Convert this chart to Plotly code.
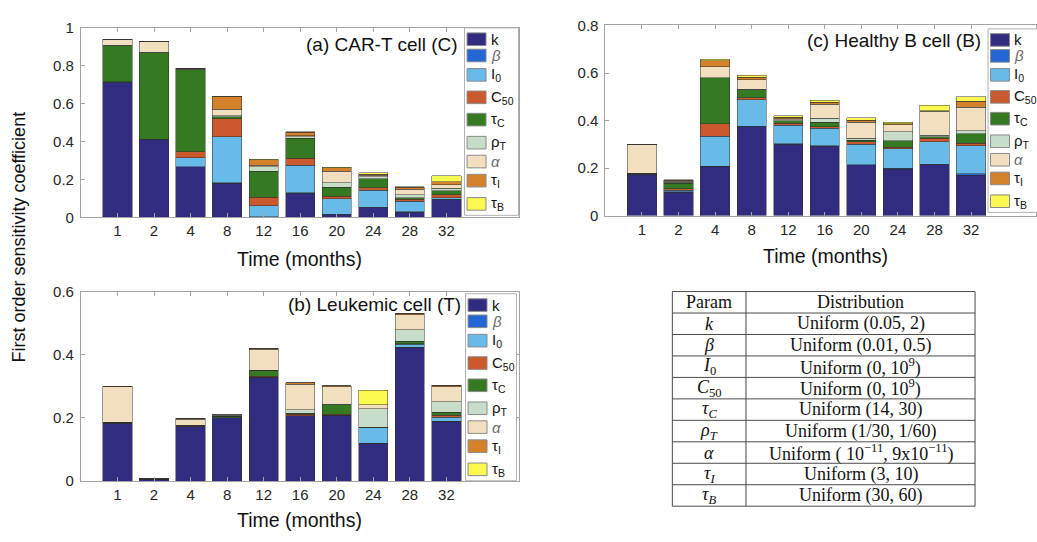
import plotly.graph_objects as go

W, H = 1037, 542


def px(x):
    return x / W


def py(y):
    return 1 - y / H


# ---------------- data ----------------
months = ["1", "2", "4", "8", "12", "16", "20", "24", "28", "32"]
positions = list(range(1, 11))

params = ["k", "beta", "I0", "C50", "tauC", "rhoT", "alpha", "tauI", "tauB"]
param_labels = [
    "k",
    "<i>β</i>",
    "I<sub>0</sub>",
    "C<sub>50</sub>",
    "τ<sub>C</sub>",
    "ρ<sub>T</sub>",
    "<i>α</i>",
    "τ<sub>I</sub>",
    "τ<sub>B</sub>",
]
param_colors = [
    "#322c80",  # k
    "#2566d6",  # beta
    "#68bbe8",  # I0
    "#cb592e",  # C50
    "#357a22",  # tauC
    "#c7dcc9",  # rhoT
    "#f2dfc0",  # alpha
    "#d4812c",  # tauI
    "#fbf94f",  # tauB
]

# (a) CAR-T cell (C): first order indices per parameter and month
car_t = {
    "k":     [0.713, 0.408, 0.266, 0.180, 0.002, 0.128, 0.013, 0.051, 0.027, 0.092],
    "beta":  [0.003, 0.003, 0.002, 0.002, 0.000, 0.002, 0.003, 0.002, 0.003, 0.003],
    "I0":    [0.000, 0.000, 0.047, 0.242, 0.058, 0.144, 0.081, 0.089, 0.054, 0.008],
    "C50":   [0.000, 0.000, 0.032, 0.097, 0.046, 0.037, 0.014, 0.015, 0.010, 0.017],
    "tauC":  [0.189, 0.459, 0.432, 0.010, 0.137, 0.107, 0.048, 0.047, 0.010, 0.020],
    "rhoT":  [0.003, 0.002, 0.002, 0.004, 0.024, 0.007, 0.024, 0.009, 0.014, 0.012],
    "alpha": [0.031, 0.055, 0.002, 0.035, 0.008, 0.005, 0.061, 0.009, 0.031, 0.019],
    "tauI":  [0.002, 0.003, 0.004, 0.070, 0.029, 0.018, 0.018, 0.004, 0.010, 0.017],
    "tauB":  [0.000, 0.000, 0.000, 0.000, 0.002, 0.003, 0.002, 0.009, 0.002, 0.030],
}

# (b) Leukemic cell (T)
leukemic = {
    "k":     [0.183, 0.005, 0.172, 0.200, 0.329, 0.207, 0.208, 0.120, 0.423, 0.190],
    "beta":  [0.000, 0.000, 0.000, 0.000, 0.000, 0.000, 0.000, 0.000, 0.000, 0.000],
    "I0":    [0.000, 0.000, 0.000, 0.000, 0.000, 0.000, 0.000, 0.048, 0.010, 0.012],
    "C50":   [0.001, 0.000, 0.001, 0.001, 0.002, 0.004, 0.003, 0.000, 0.002, 0.006],
    "tauC":  [0.002, 0.001, 0.003, 0.004, 0.019, 0.004, 0.030, 0.003, 0.007, 0.009],
    "rhoT":  [0.000, 0.000, 0.000, 0.000, 0.001, 0.010, 0.002, 0.058, 0.037, 0.034],
    "alpha": [0.112, 0.001, 0.020, 0.003, 0.066, 0.082, 0.055, 0.013, 0.048, 0.047],
    "tauI":  [0.002, 0.001, 0.002, 0.002, 0.003, 0.004, 0.004, 0.000, 0.005, 0.005],
    "tauB":  [0.000, 0.000, 0.000, 0.000, 0.000, 0.000, 0.000, 0.046, 0.000, 0.000],
}

# (c) Healthy B cell (B)
healthy_b = {
    "k":     [0.172, 0.098, 0.207, 0.374, 0.300, 0.292, 0.213, 0.196, 0.214, 0.169],
    "beta":  [0.000, 0.002, 0.000, 0.002, 0.002, 0.002, 0.002, 0.003, 0.003, 0.007],
    "I0":    [0.001, 0.006, 0.127, 0.111, 0.078, 0.073, 0.086, 0.083, 0.093, 0.117],
    "C50":   [0.001, 0.008, 0.052, 0.008, 0.009, 0.007, 0.009, 0.005, 0.015, 0.011],
    "tauC":  [0.005, 0.022, 0.193, 0.034, 0.011, 0.019, 0.007, 0.028, 0.007, 0.040],
    "rhoT":  [0.000, 0.004, 0.002, 0.002, 0.004, 0.016, 0.008, 0.038, 0.007, 0.014],
    "alpha": [0.119, 0.005, 0.045, 0.041, 0.004, 0.060, 0.068, 0.029, 0.100, 0.098],
    "tauI":  [0.002, 0.004, 0.025, 0.011, 0.005, 0.008, 0.008, 0.004, 0.002, 0.025],
    "tauB":  [0.001, 0.002, 0.007, 0.007, 0.007, 0.009, 0.011, 0.007, 0.024, 0.020],
}

# parameter distributions for the summary table
table_header = ["Param", "Distribution"]
table_params = [
    "<i>k</i>", "<i>β</i>", "<i>I</i><sub>0</sub>", "<i>C</i><sub>50</sub>",
    "<i>τ<sub>C</sub></i>", "<i>ρ<sub>T</sub></i>", "<i>α</i>",
    "<i>τ<sub>I</sub></i>", "<i>τ<sub>B</sub></i>",
]
table_dists = [
    "Uniform (0.05, 2)",
    "Uniform (0.01, 0.5)",
    "Uniform (0, 10<sup>9</sup>)",
    "Uniform (0, 10<sup>9</sup>)",
    "Uniform (14, 30)",
    "Uniform (1/30, 1/60)",
    "Uniform ( 10<sup>−11</sup>, 9x10<sup>−11</sup>)",
    "Uniform (3, 10)",
    "Uniform (30, 60)",
]

SANS = "Liberation Sans, Arial, Helvetica, sans-serif"
SERIF = "Liberation Serif, Times New Roman, serif"
INK = "#262626"
AXIS_GRAY = "#a3a3a3"

fig = go.Figure()

panels = [
    dict(data=car_t, xa="x", ya="y"),
    dict(data=leukemic, xa="x2", ya="y2"),
    dict(data=healthy_b, xa="x3", ya="y3"),
]

for p in panels:
    for key, label, color in zip(params, param_labels, param_colors):
        fig.add_trace(go.Bar(
            x=positions,
            y=p["data"][key],
            name=label,
            marker=dict(color=color, line=dict(color="rgba(45,45,45,0.6)", width=0.8)),
            xaxis=p["xa"],
            yaxis=p["ya"],
            showlegend=False,
            hoverinfo="skip",
        ))


def xaxis_style(domain, rng):
    return dict(
        domain=domain, range=rng,
        tickmode="array", tickvals=positions, ticktext=months,
        ticks="inside", ticklen=4, tickcolor=AXIS_GRAY,
        showline=True, linecolor=AXIS_GRAY, linewidth=1, mirror="ticks",
        showgrid=False, zeroline=False,
        tickfont=dict(family=SANS, size=15, color=INK),
        ticklabelstandoff=0,
        fixedrange=True,
    )


def yaxis_style(domain, rng, anchor):
    return dict(
        domain=domain, range=rng, dtick=0.2, tick0=0,
        ticks="inside", ticklen=4, tickcolor=AXIS_GRAY,
        showline=True, linecolor=AXIS_GRAY, linewidth=1, mirror="ticks",
        showgrid=False, zeroline=False,
        tickfont=dict(family=SANS, size=15, color=INK),
        ticklabelstandoff=3,
        anchor=anchor,
        fixedrange=True,
    )


fig.update_layout(
    width=W, height=H,
    margin=dict(l=0, r=0, t=0, b=0),
    paper_bgcolor="white", plot_bgcolor="white",
    barmode="stack", bargap=0.2,
    showlegend=False,
    xaxis=dict(**xaxis_style([px(81), px(520)], [0, 12]), anchor="y"),
    yaxis=yaxis_style([py(215), py(19.5)], [0, 1], "x"),
    xaxis2=dict(**xaxis_style([px(81), px(520)], [0, 12]), anchor="y2"),
    yaxis2=yaxis_style([py(487.3), py(291.7)], [0, 0.6], "x2"),
    xaxis3=dict(**xaxis_style([px(606), 1.0], [0, (W - 606) / 36.6]), anchor="y3"),
    yaxis3=yaxis_style([py(213.3), py(17)], [0, 0.8], "x3"),
)

annotations = []
shapes = []

# panel titles
for text, x_right, y_mid in [
    ("(a) CAR-T cell (C)", 460, 36.5),
    ("(b) Leukemic cell (T)", 463, 305),
    ("(c) Healthy B cell (B)", 984, 32.5),
]:
    annotations.append(dict(
        text=text, x=px(x_right), y=py(y_mid), xref="paper", yref="paper",
        xanchor="right", yanchor="middle", showarrow=False,
        font=dict(family=SANS, size=19, color="#111"),
    ))

# x axis titles
for x_mid, y_mid in [(300, 258), (300, 528), (826, 255)]:
    annotations.append(dict(
        text="Time (months)", x=px(x_mid), y=py(y_mid), xref="paper", yref="paper",
        xanchor="center", yanchor="middle", showarrow=False,
        font=dict(family=SANS, size=19.5, color="#111"),
    ))

# shared y axis title
annotations.append(dict(
    text="First order sensitivity coefficient", x=px(19), y=py(235),
    xref="paper", yref="paper", xanchor="center", yanchor="middle",
    textangle=-90, showarrow=False,
    font=dict(family=SANS, size=18, color="#111"),
))

# legends drawn inside each panel
swatch_offsets = [11.7, 28.5, 48.5, 71.7, 94.7, 118.5, 138.0, 157.7, 181.7]
legend_boxes = [
    (465, 19.5, 519, 213),
    (466, 294, 517, 487),
    (989, 20.5, 1045, 210),
]
for left, top, right, bottom in legend_boxes:
    shapes.append(dict(
        type="rect", xref="paper", yref="paper",
        x0=px(left), x1=px(right), y0=py(bottom), y1=py(top),
        line=dict(color="#b0b0b0", width=1), fillcolor="white", layer="above",
    ))
    scale = (bottom - top) / 193.5
    for off, label, color in zip(swatch_offsets, param_labels, param_colors):
        cy = top + off * scale
        shapes.append(dict(
            type="rect", xref="paper", yref="paper",
            x0=px(left + 2.5), x1=px(left + 21.5), y0=py(cy + 6.5), y1=py(cy - 6.5),
            line=dict(color="#8a8a8a", width=1), fillcolor=color, layer="above",
        ))
        is_greek_italic = label.startswith("<i>")
        annotations.append(dict(
            text=label, x=px(left + 24), y=py(cy), xref="paper", yref="paper",
            xanchor="left", yanchor="middle", showarrow=False,
            font=dict(family=SANS, size=15,
                      color="#6a6a6a" if is_greek_italic else "#111"),
        ))

# parameter distribution table
tbl_left, tbl_mid, tbl_right = 673, 746.7, 976
tbl_top, tbl_bottom = 291.7, 513.3
n_rows = len(table_params) + 1
row_h = (tbl_bottom - tbl_top) / n_rows
line_style = dict(color="#4a4a4a", width=1)

shapes.append(dict(
    type="rect", xref="paper", yref="paper",
    x0=px(tbl_left), x1=px(tbl_right), y0=py(tbl_bottom), y1=py(tbl_top),
    line=line_style, fillcolor="rgba(0,0,0,0)", layer="above",
))
shapes.append(dict(
    type="line", xref="paper", yref="paper",
    x0=px(tbl_mid), x1=px(tbl_mid), y0=py(tbl_bottom), y1=py(tbl_top),
    line=line_style, layer="above",
))
for i in range(1, n_rows):
    yy = tbl_top + i * row_h
    shapes.append(dict(
        type="line", xref="paper", yref="paper",
        x0=px(tbl_left), x1=px(tbl_right), y0=py(yy), y1=py(yy),
        line=line_style, layer="above",
    ))

rows = [table_header] + [[p, d] for p, d in zip(table_params, table_dists)]
for i, (c1, c2) in enumerate(rows):
    cy = tbl_top + (i + 0.5) * row_h
    for text, cx in [(c1, (tbl_left + tbl_mid) / 2), (c2, (tbl_mid + tbl_right) / 2)]:
        annotations.append(dict(
            text=text, x=px(cx), y=py(cy), xref="paper", yref="paper",
            xanchor="center", yanchor="middle", showarrow=False,
            font=dict(family=SERIF, size=18, color="#111"),
        ))

fig.update_layout(annotations=annotations, shapes=shapes)

fig.write_html("out.html")
